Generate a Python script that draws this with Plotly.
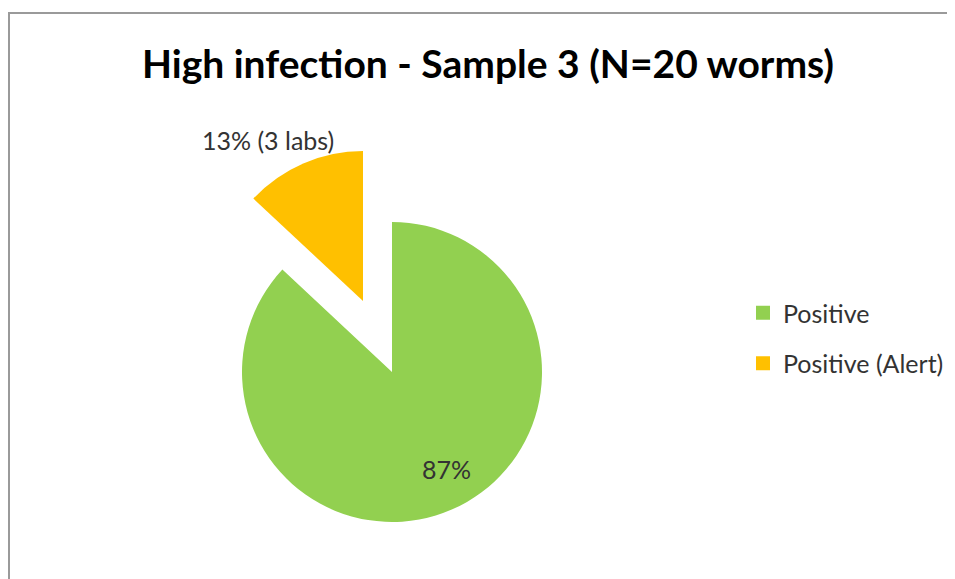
import plotly.graph_objects as go

title = "High infection - Sample 3 (N=20 worms)"
labels = ["Positive", "Positive (Alert)"]
labs = [20, 3]
colors = ["#92D050", "#FFC000"]

# page body has an 8px margin; figure is sized to fill the rest of the window
OFF = 8
W, H = 955 - OFF, 579 - OFF
font_family = "Lato, 'Open Sans', sans-serif"
txt_color = "#333333"

def px(x):
    return (x - OFF) / W

def py(y):
    return 1 - (y - OFF) / H

def dom_x(cx, r):
    return [px(cx - r), px(cx + r)]

def dom_y(cy, r):
    return [py(cy + r), py(cy - r)]

R = 150
total = sum(labs)
pcts = [round(100 * v / total) for v in labs]

fig = go.Figure()

# main pie (Positive slice visible, alert slice left empty)
fig.add_trace(go.Pie(
    labels=labels, values=labs, sort=False, direction="clockwise", rotation=0,
    marker=dict(colors=[colors[0], "rgba(0,0,0,0)"], line=dict(width=0)),
    textinfo="none",
    domain=dict(x=dom_x(392, R), y=dom_y(372, R)),
    showlegend=False, hoverinfo="label+percent",
))

# exploded alert slice
fig.add_trace(go.Pie(
    labels=labels, values=labs, sort=False, direction="clockwise", rotation=0,
    marker=dict(colors=["rgba(0,0,0,0)", colors[1]], line=dict(width=0)),
    textinfo="none",
    domain=dict(x=dom_x(363, R), y=dom_y(301, R)),
    showlegend=False, hoverinfo="label+percent",
))

# legend entries
for lab, col in zip(labels, colors):
    fig.add_trace(go.Scatter(
        x=[None], y=[None], mode="markers", name=lab,
        marker=dict(symbol="square", size=14, color=col),
        legendgroup=lab,
    ))

# data labels
fig.add_annotation(text=f"{pcts[0]}%", x=px(446), y=py(469), xref="paper", yref="paper",
                   showarrow=False, xanchor="center", yanchor="middle",
                   font=dict(family=font_family, size=25, color=txt_color))
fig.add_annotation(text=f"{pcts[1]}% ({labs[1]} labs)", x=px(268), y=py(140), xref="paper", yref="paper",
                   showarrow=False, xanchor="center", yanchor="middle",
                   font=dict(family=font_family, size=25, color=txt_color))

fig.add_shape(type="rect", xref="paper", yref="paper",
              x0=px(9), y0=-0.05, x1=1.05, y1=py(13),
              line=dict(color="#9A9A9A", width=2), fillcolor="rgba(0,0,0,0)")

fig.update_layout(
    width=W, height=H,
    margin=dict(l=0, r=0, t=0, b=0),
    paper_bgcolor="white", plot_bgcolor="white",
    title=dict(text=title, x=px(488), y=py(64), xanchor="center", yanchor="middle",
               font=dict(family=font_family, size=39, color="#000000", weight="bold")),
    xaxis=dict(visible=False), yaxis=dict(visible=False),
    legend=dict(x=px(743), y=py(338), xanchor="left", yanchor="middle",
                font=dict(family=font_family, size=25, color=txt_color),
                tracegroupgap=15, bgcolor="rgba(0,0,0,0)"),
)

fig.write_html("out.html")
